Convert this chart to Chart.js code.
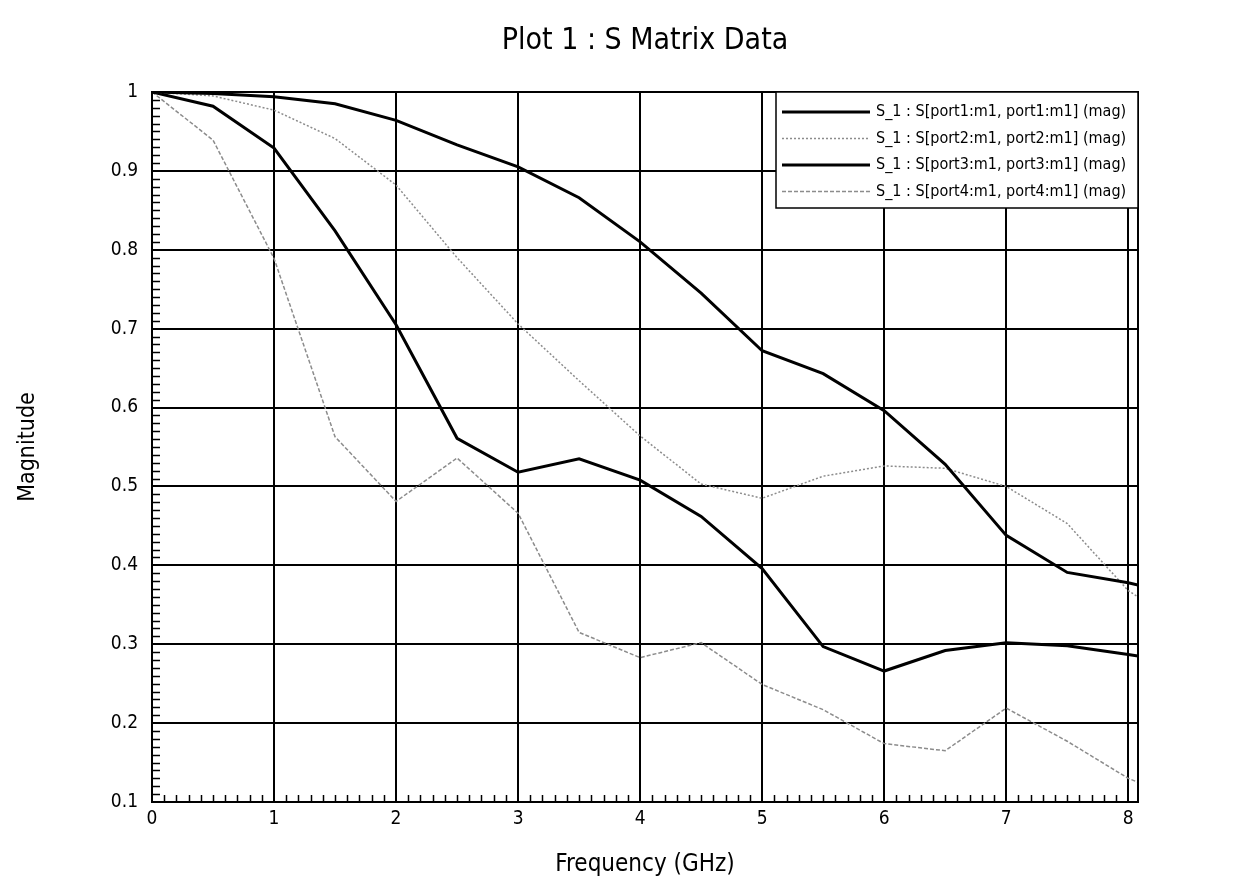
<!DOCTYPE html>
<html>
<head>
<meta charset="utf-8">
<title>Plot 1 : S Matrix Data</title>
<script src="https://cdn.jsdelivr.net/npm/chart.js@4.4.1/dist/chart.umd.min.js"></script>
<style>
    html, body { margin: 0; padding: 0; background: #fff; }
    #wrap { width: 1233px; height: 884px; position: relative; }
</style>
</head>
<body>
<div id="wrap"><canvas id="sChart"></canvas></div>
<script>
// frequency points (GHz) and |S| magnitudes
const freqs = [0, 0.5, 1, 1.5, 2, 2.5, 3, 3.5, 4, 4.5, 5, 5.5, 6, 6.5, 7, 7.5, 8, 8.08];
const s11 = [1.0, 0.998, 0.994, 0.985, 0.964, 0.933, 0.905, 0.866, 0.81, 0.745, 0.672, 0.643, 0.596, 0.528, 0.438, 0.391, 0.378, 0.375];
const s22 = [1.0, 0.995, 0.977, 0.941, 0.882, 0.79, 0.706, 0.634, 0.564, 0.503, 0.485, 0.513, 0.526, 0.523, 0.5, 0.453, 0.368, 0.36];
const s33 = [1.0, 0.982, 0.929, 0.824, 0.705, 0.561, 0.518, 0.535, 0.508, 0.462, 0.396, 0.297, 0.266, 0.292, 0.302, 0.298, 0.287, 0.285];
const s44 = [1.0, 0.939, 0.789, 0.563, 0.481, 0.536, 0.466, 0.315, 0.283, 0.302, 0.249, 0.217, 0.174, 0.165, 0.219, 0.177, 0.13, 0.125];

const seriesLabels = [
    'S_1 : S[port1:m1, port1:m1] (mag)',
    'S_1 : S[port2:m1, port2:m1] (mag)',
    'S_1 : S[port3:m1, port3:m1] (mag)',
    'S_1 : S[port4:m1, port4:m1] (mag)'
];
const titleText = 'Plot 1 : S Matrix Data';
const xTitle = 'Frequency (GHz)';
const yTitle = 'Magnitude';
const xMin = 0, xMax = 8.08;
const yMin = 0.1, yMax = 1;

const FONT = "'Liberation Sans Narrow', 'DejaVu Sans Condensed', 'Roboto', sans-serif";

function pts(ys) {
    return freqs.map((f, i) => ({ x: f, y: ys[i] }));
}

// title, frame, minor ticks and the boxed legend
const framePlugin = {
    id: 'frame',
    beforeDatasetsDraw(chart) {
        const { ctx, chartArea: a, scales } = chart;
        ctx.save();
        ctx.strokeStyle = '#000';
        ctx.lineWidth = 1.5;
        ctx.beginPath();
        for (let i = 11; i < 100; i++) {
            if (i % 10 === 0) continue;
            const y = Math.round(scales.y.getPixelForValue(i / 100)) + 0.5;
            ctx.moveTo(a.left, y);
            ctx.lineTo(a.left + 8, y);
        }
        for (let i = 1; i < 80; i++) {
            if (i % 10 === 0) continue;
            const x = Math.round(scales.x.getPixelForValue(i / 10)) + 0.5;
            ctx.moveTo(x, a.bottom);
            ctx.lineTo(x, a.bottom - 7);
        }
        ctx.stroke();
        ctx.restore();
    },
    afterDraw(chart) {
        const { ctx, chartArea: a } = chart;
        ctx.save();
        ctx.strokeStyle = '#000';
        ctx.lineWidth = 2;
        ctx.strokeRect(a.left, a.top, a.right - a.left, a.bottom - a.top);

        ctx.fillStyle = '#000';
        ctx.font = '30px ' + FONT;
        ctx.textAlign = 'center';
        ctx.textBaseline = 'middle';
        ctx.fillText(titleText, (a.left + a.right) / 2, 41);

        // legend box
        const bx = 776, by = a.top, bw = a.right - 776, bh = 116;
        ctx.fillStyle = '#fff';
        ctx.fillRect(bx, by, bw, bh);
        ctx.lineWidth = 1.5;
        ctx.strokeRect(bx, by, bw, bh);
        ctx.font = '16px ' + FONT;
        ctx.textAlign = 'left';
        chart.data.datasets.forEach((ds, i) => {
            const y = by + 20 + i * 26.5;
            ctx.strokeStyle = ds.borderColor;
            ctx.lineWidth = ds.borderWidth;
            ctx.setLineDash(ds.borderDash || []);
            ctx.beginPath();
            ctx.moveTo(bx + 6, y);
            ctx.lineTo(bx + 94, y);
            ctx.stroke();
            ctx.setLineDash([]);
            ctx.fillStyle = '#000';
            ctx.fillText(ds.label, bx + 100, y);
        });
        ctx.restore();
    }
};

new Chart(document.getElementById('sChart'), {
    type: 'line',
    data: {
        datasets: [
            { label: seriesLabels[0], data: pts(s11), borderColor: '#000', borderWidth: 3 },
            { label: seriesLabels[1], data: pts(s22), borderColor: '#8c8c8c', borderWidth: 1.5, borderDash: [2, 2] },
            { label: seriesLabels[2], data: pts(s33), borderColor: '#000', borderWidth: 3 },
            { label: seriesLabels[3], data: pts(s44), borderColor: '#8c8c8c', borderWidth: 1.5, borderDash: [4, 2] }
        ]
    },
    options: {
        responsive: true,
        maintainAspectRatio: false,
        animation: false,
        layout: { padding: { top: 92, left: 0, right: 95, bottom: 0 } },
        elements: {
            point: { radius: 0, hoverRadius: 0 },
            line: { tension: 0, fill: false }
        },
        scales: {
            x: {
                type: 'linear',
                min: xMin,
                max: xMax,
                afterFit(scale) { scale.height = 82; },
                ticks: {
                    stepSize: 1,
                    includeBounds: false,
                    color: '#000',
                    padding: 6,
                    maxRotation: 0,
                    font: { family: FONT, size: 19 }
                },
                grid: { color: '#000', lineWidth: 2, drawTicks: false },
                border: { display: true, color: '#000', width: 2 },
                title: {
                    display: true,
                    text: xTitle,
                    color: '#000',
                    font: { family: FONT, size: 24 },
                    padding: { top: 0, bottom: 5 }
                }
            },
            y: {
                type: 'linear',
                min: yMin,
                max: yMax,
                afterFit(scale) { scale.width = 152; },
                ticks: {
                    stepSize: 0.1,
                    color: '#000',
                    padding: 14,
                    font: { family: FONT, size: 19 },
                    callback: v => (Math.abs(v - 1) < 1e-9 ? '1' : v.toFixed(1))
                },
                grid: { color: '#000', lineWidth: 2, drawTicks: false },
                border: { display: true, color: '#000', width: 2 },
                title: {
                    display: true,
                    text: yTitle,
                    color: '#000',
                    font: { family: FONT, size: 23 },
                    padding: { top: 14, bottom: 0 }
                }
            }
        },
        plugins: {
            legend: { display: false },
            title: { display: false },
            tooltip: { enabled: false }
        }
    },
    plugins: [framePlugin]
});
</script>
</body>
</html>
